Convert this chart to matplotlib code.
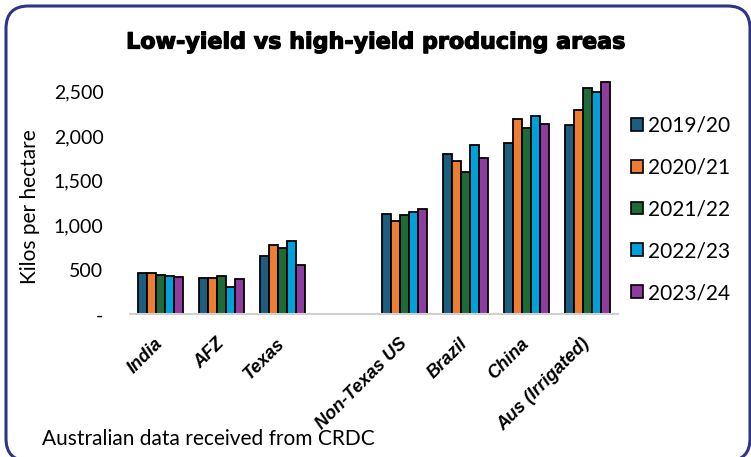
import numpy as np
import matplotlib.pyplot as plt
import matplotlib.patheffects as pe
from matplotlib.patches import FancyBboxPatch, Patch
from matplotlib.transforms import ScaledTranslation

# data
regions = ["India", "AFZ", "Texas", "", "Non-Texas US", "Brazil", "China", "Aus (Irrigated)"]
seasons = ["2019/20", "2020/21", "2021/22", "2022/23", "2023/24"]
y2019 = [467, 404, 655, np.nan, 1131, 1800, 1920, 2130]
y2020 = [467, 411, 778, np.nan, 1044, 1718, 2193, 2291]
y2021 = [441, 430, 741, np.nan, 1112, 1595, 2097, 2542]
y2022 = [430, 310, 823, np.nan, 1145, 1906, 2227, 2493]
y2023 = [422, 400, 557, np.nan, 1183, 1752, 2134, 2609]
yticks = [0, 500, 1000, 1500, 2000, 2500]
yticklabels = ["-", "500", "1,000", "1,500", "2,000", "2,500"]

colors = ["#1B5E80", "#ED7D31", "#1E6B37", "#00A0D8", "#8E3C9E"]
series = [y2019, y2020, y2021, y2022, y2023]

fig = plt.figure(figsize=(7.51, 4.57), dpi=100)

# rounded frame, runs slightly off the bottom/right edge like the original
frame = FancyBboxPatch((6 / 751, -4 / 457), 744 / 751, 455 / 457,
                       boxstyle="round,pad=0,rounding_size=0.03",
                       transform=fig.transFigure, fill=False, edgecolor="#2E3585", linewidth=2.2,
                       mutation_aspect=751 / 457)
fig.patches.append(frame)

ax = fig.add_axes([0.173, 0.312, 0.650, 0.536])
x = np.arange(len(regions))
w = 0.15
for i, (vals, c) in enumerate(zip(series, colors)):
    ax.bar(x + (i - 2) * w, vals, width=w, color=c, edgecolor="black", linewidth=1.3, label=seasons[i])

ax.set_xlim(-0.5, len(regions) - 0.5)
ax.set_ylim(0, 2750)
ax.set_yticks(yticks)
ax.set_yticklabels(yticklabels, fontsize=14, family="Lato")
ax.tick_params(axis="y", length=0, pad=19)
ax.set_xticks(x)
ax.set_xticklabels(regions, rotation=45, ha="right", va="top", rotation_mode="anchor",
                   fontsize=13, fontweight="bold", fontstyle="italic", family="Liberation Sans")
ax.tick_params(axis="x", length=0, pad=13)
shift = ScaledTranslation(-0.06, -0.03, fig.dpi_scale_trans)
for lab in ax.get_xticklabels():
    lab.set_transform(lab.get_transform() + shift)
for s in ["top", "right", "left"]:
    ax.spines[s].set_visible(False)
ax.spines["bottom"].set_color("#D0D0D0")
ax.spines["bottom"].set_linewidth(1.5)
ax.set_ylabel("Kilos per hectare", fontsize=15, family="Lato")
ax.yaxis.set_label_coords(-0.185, 0.44)

handles = [Patch(facecolor=c, edgecolor="black", linewidth=1.2) for c in colors]
fig.legend(handles, seasons, loc="upper left", bbox_to_anchor=(0.840, 0.747), frameon=False,
           prop={"family": "Lato", "size": 15}, handlelength=0.58, handleheight=0.58,
           handletextpad=0.25, labelspacing=1.05, borderpad=0, borderaxespad=0)

fig.text(0.501, 0.907, "Low-yield vs high-yield producing areas", ha="center", va="center",
         fontsize=16, fontweight="bold", family="DejaVu Sans",
         path_effects=[pe.withStroke(linewidth=0.9, foreground="black")])
fig.text(0.056, 0.026, "Australian data received from CRDC", ha="left", va="baseline",
         fontsize=15, family="Lato")

fig.savefig("out.png", dpi=100)
